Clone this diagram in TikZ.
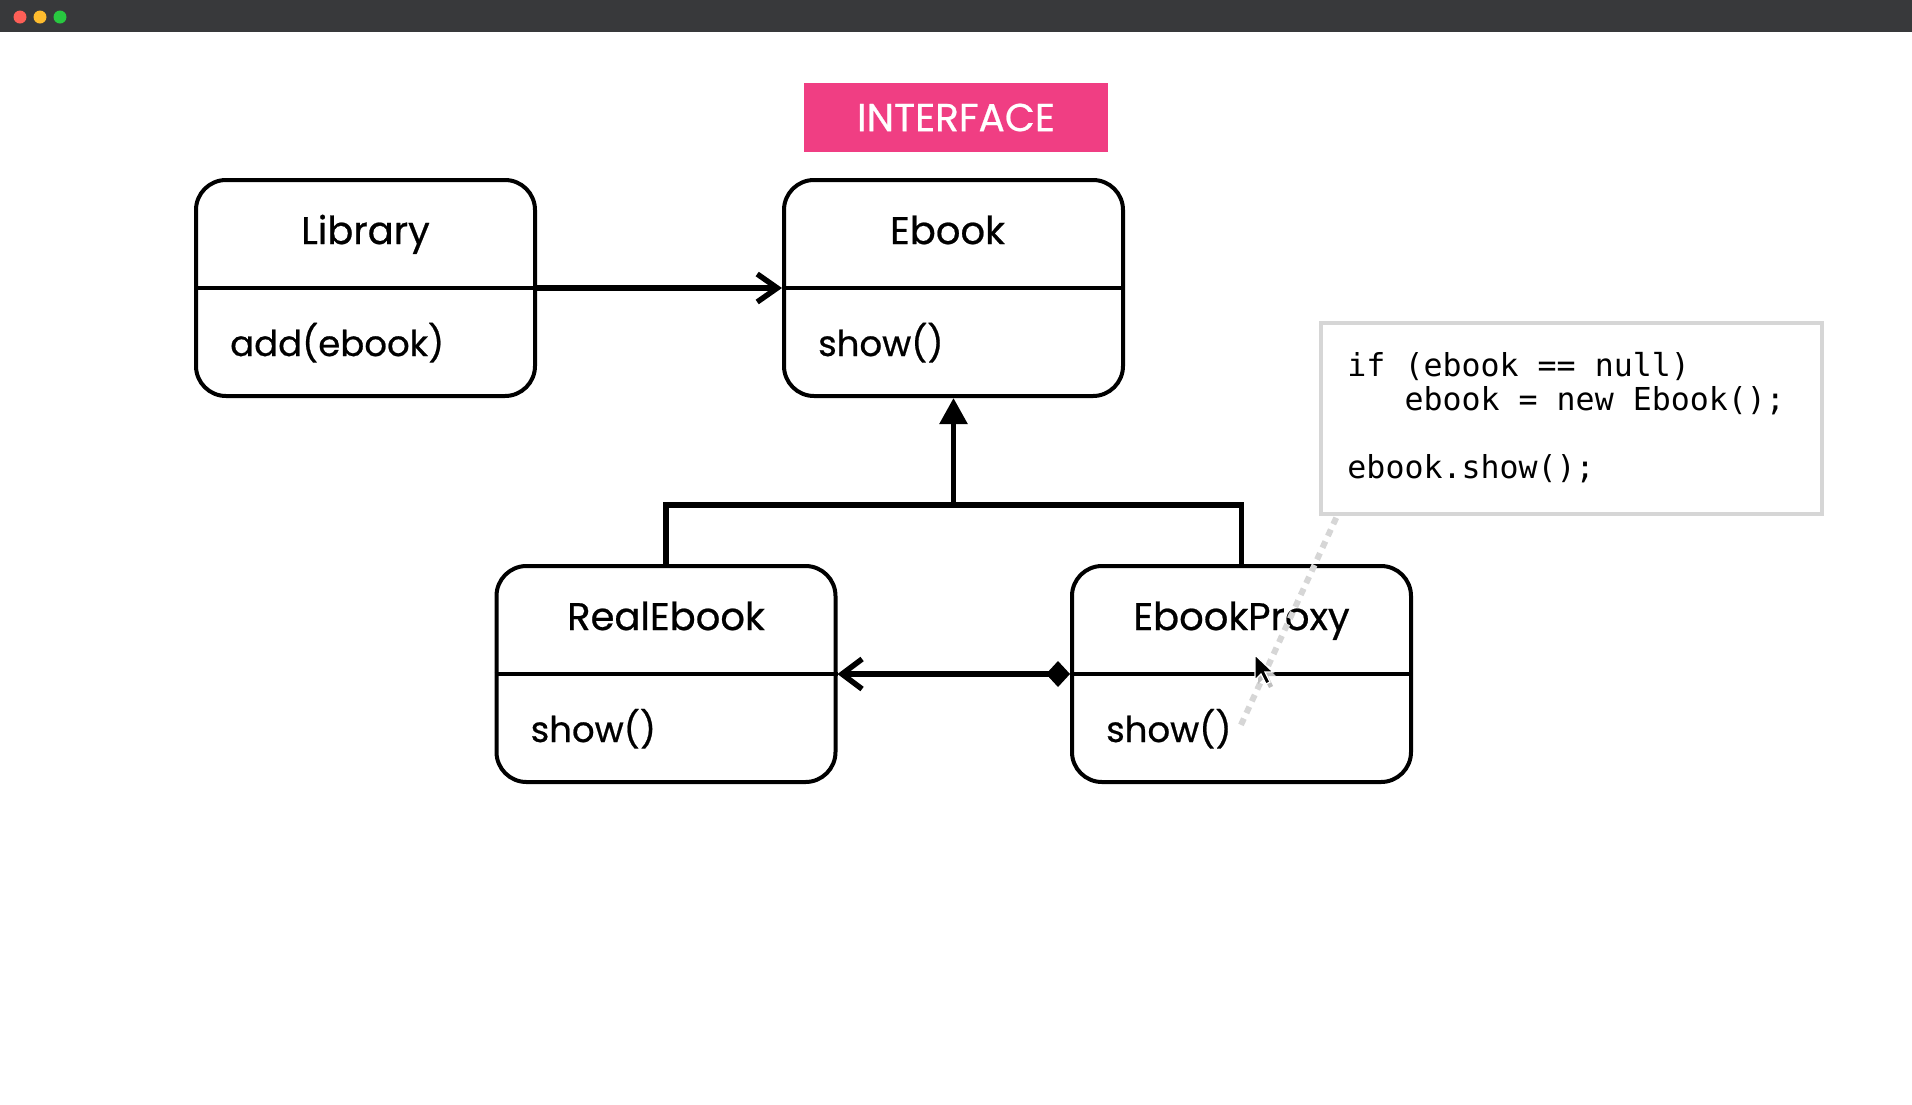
\documentclass[tikz,border=0pt]{standalone}
\usepackage{fontspec}
\setmainfont{Poppins}
\newfontfamily\umlfont[FakeBold=0.6]{Poppins}
\newfontfamily\codefont{DejaVu Sans Mono}
\usepackage{tikz}
\usetikzlibrary{arrows.meta,       % pointes de fleches
           calc,                   % calculs de coordonnees
           positioning}
\definecolor{barcol}{HTML}{38393B}
\definecolor{dotred}{HTML}{FE5F57}
\definecolor{dotyellow}{HTML}{FEBC2E}
\definecolor{dotgreen}{HTML}{28C840}
\definecolor{ifacepink}{HTML}{F03E83}
\definecolor{notegray}{HTML}{D6D6D6}
\tikzset{
  classbox/.style={draw, line width=4pt, rounded corners=30pt, minimum width=339pt, minimum height=216pt, inner sep=0pt},
  divider/.style={line width=4pt},
  classtitle/.style={anchor=base, inner sep=0pt, font=\umlfont\fontsize{38.5}{46}\selectfont},
  classmethod/.style={anchor=base west, inner sep=0pt, font=\umlfont\fontsize{35.5}{43}\selectfont},
  link/.style={line width=5.5pt},
  codeline/.style={anchor=base west, inner sep=0pt, font=\codefont\fontsize{31.6}{35}\selectfont},
}
\begin{document}
\begin{tikzpicture}[x=1pt, y=-1pt]
\useasboundingbox (0,0) rectangle (1912,1104);
% barre de fenetre
\fill[barcol] (0,0) rectangle (1912,32);
\fill[dotred] (20,17) circle (6.5pt);
\fill[dotyellow] (40,17) circle (6.5pt);
\fill[dotgreen] (60,17) circle (6.5pt);
% etiquette
\node[fill=ifacepink, text=white, minimum width=304pt, minimum height=69pt, inner sep=0pt, font=\umlfont\fontsize{39}{46}\selectfont](iface) at (956,117.5){INTERFACE};
% classes
\node[classbox](lib) at (365.5,288){};
\node[classtitle](libtitle) at ($(lib.north)+(0,66)$){Library};
\node[classmethod](libmethod) at ($(lib.north west)+(36,178)$){add(ebook)};
\draw[divider](lib.west)--(lib.east);
\node[classbox](ebook) at (953.5,288){};
\node[classtitle](ebooktitle) at ($(ebook.north)+(-6,66)$){Ebook};
\node[classmethod](ebookmethod) at ($(ebook.north west)+(36,178)$){show()};
\draw[divider](ebook.west)--(ebook.east);
\node[classbox](real) at (666,674){};
\node[classtitle](realtitle) at ($(real.north)+(0,66)$){RealEbook};
\node[classmethod](realmethod) at ($(real.north west)+(36,178)$){show()};
\draw[divider](real.west)--(real.east);
\node[classbox](proxy) at (1241.5,674){};
\node[classtitle](proxytitle) at ($(proxy.north)+(0,66)$){EbookProxy};
\node[classmethod](proxymethod) at ($(proxy.north west)+(36,178)$){show()};
\draw[divider](proxy.west)--(proxy.east);
% liens
\draw[link, -{Straight Barb[length=20pt, width=28pt]}](lib.east)--(ebook.west);
\coordinate(bar) at (ebook.south |- 0,505);
\draw[link](real.north)|-(bar)-|(proxy.north);
\draw[link, -{Triangle[length=26pt, width=27pt]}](bar)--(ebook.south);
\draw[link, {Diamond[length=24pt, width=26pt]}-{Straight Barb[length=20pt, width=30pt]}](proxy.west)--(real.east);
% note de code
\node[draw=notegray, line width=3.5pt, fill=white, minimum width=501pt, minimum height=191pt](code) at (1571.5,418.5){};
\node[codeline](code1) at ($(code.north west)+(28,55)$){if (ebook == null)};
\node[codeline](code2) at ($(code.north west)+(28,89)$){\hphantom{xxx}ebook = new Ebook();};
\node[codeline](code3) at ($(code.north west)+(28,157)$){ebook.show();};
\coordinate(notept) at (1240,727);
\draw[notegray, line width=6pt, dash pattern=on 7pt off 6pt]($(code.south west)+(17,2)$)--(notept);
% curseur
\fill[black!25] (1258,659)--++(0,25)--++(6,-6)--++(5,10)--++(4,-2)--++(-5,-10)--++(8,0)--cycle;
\filldraw[fill=black, draw=white, line width=1.2pt] (1255,655)--++(0,25)--++(6,-6)--++(5,10)--++(4,-2)--++(-5,-10)--++(8,0)--cycle;
\end{tikzpicture}
\end{document}
